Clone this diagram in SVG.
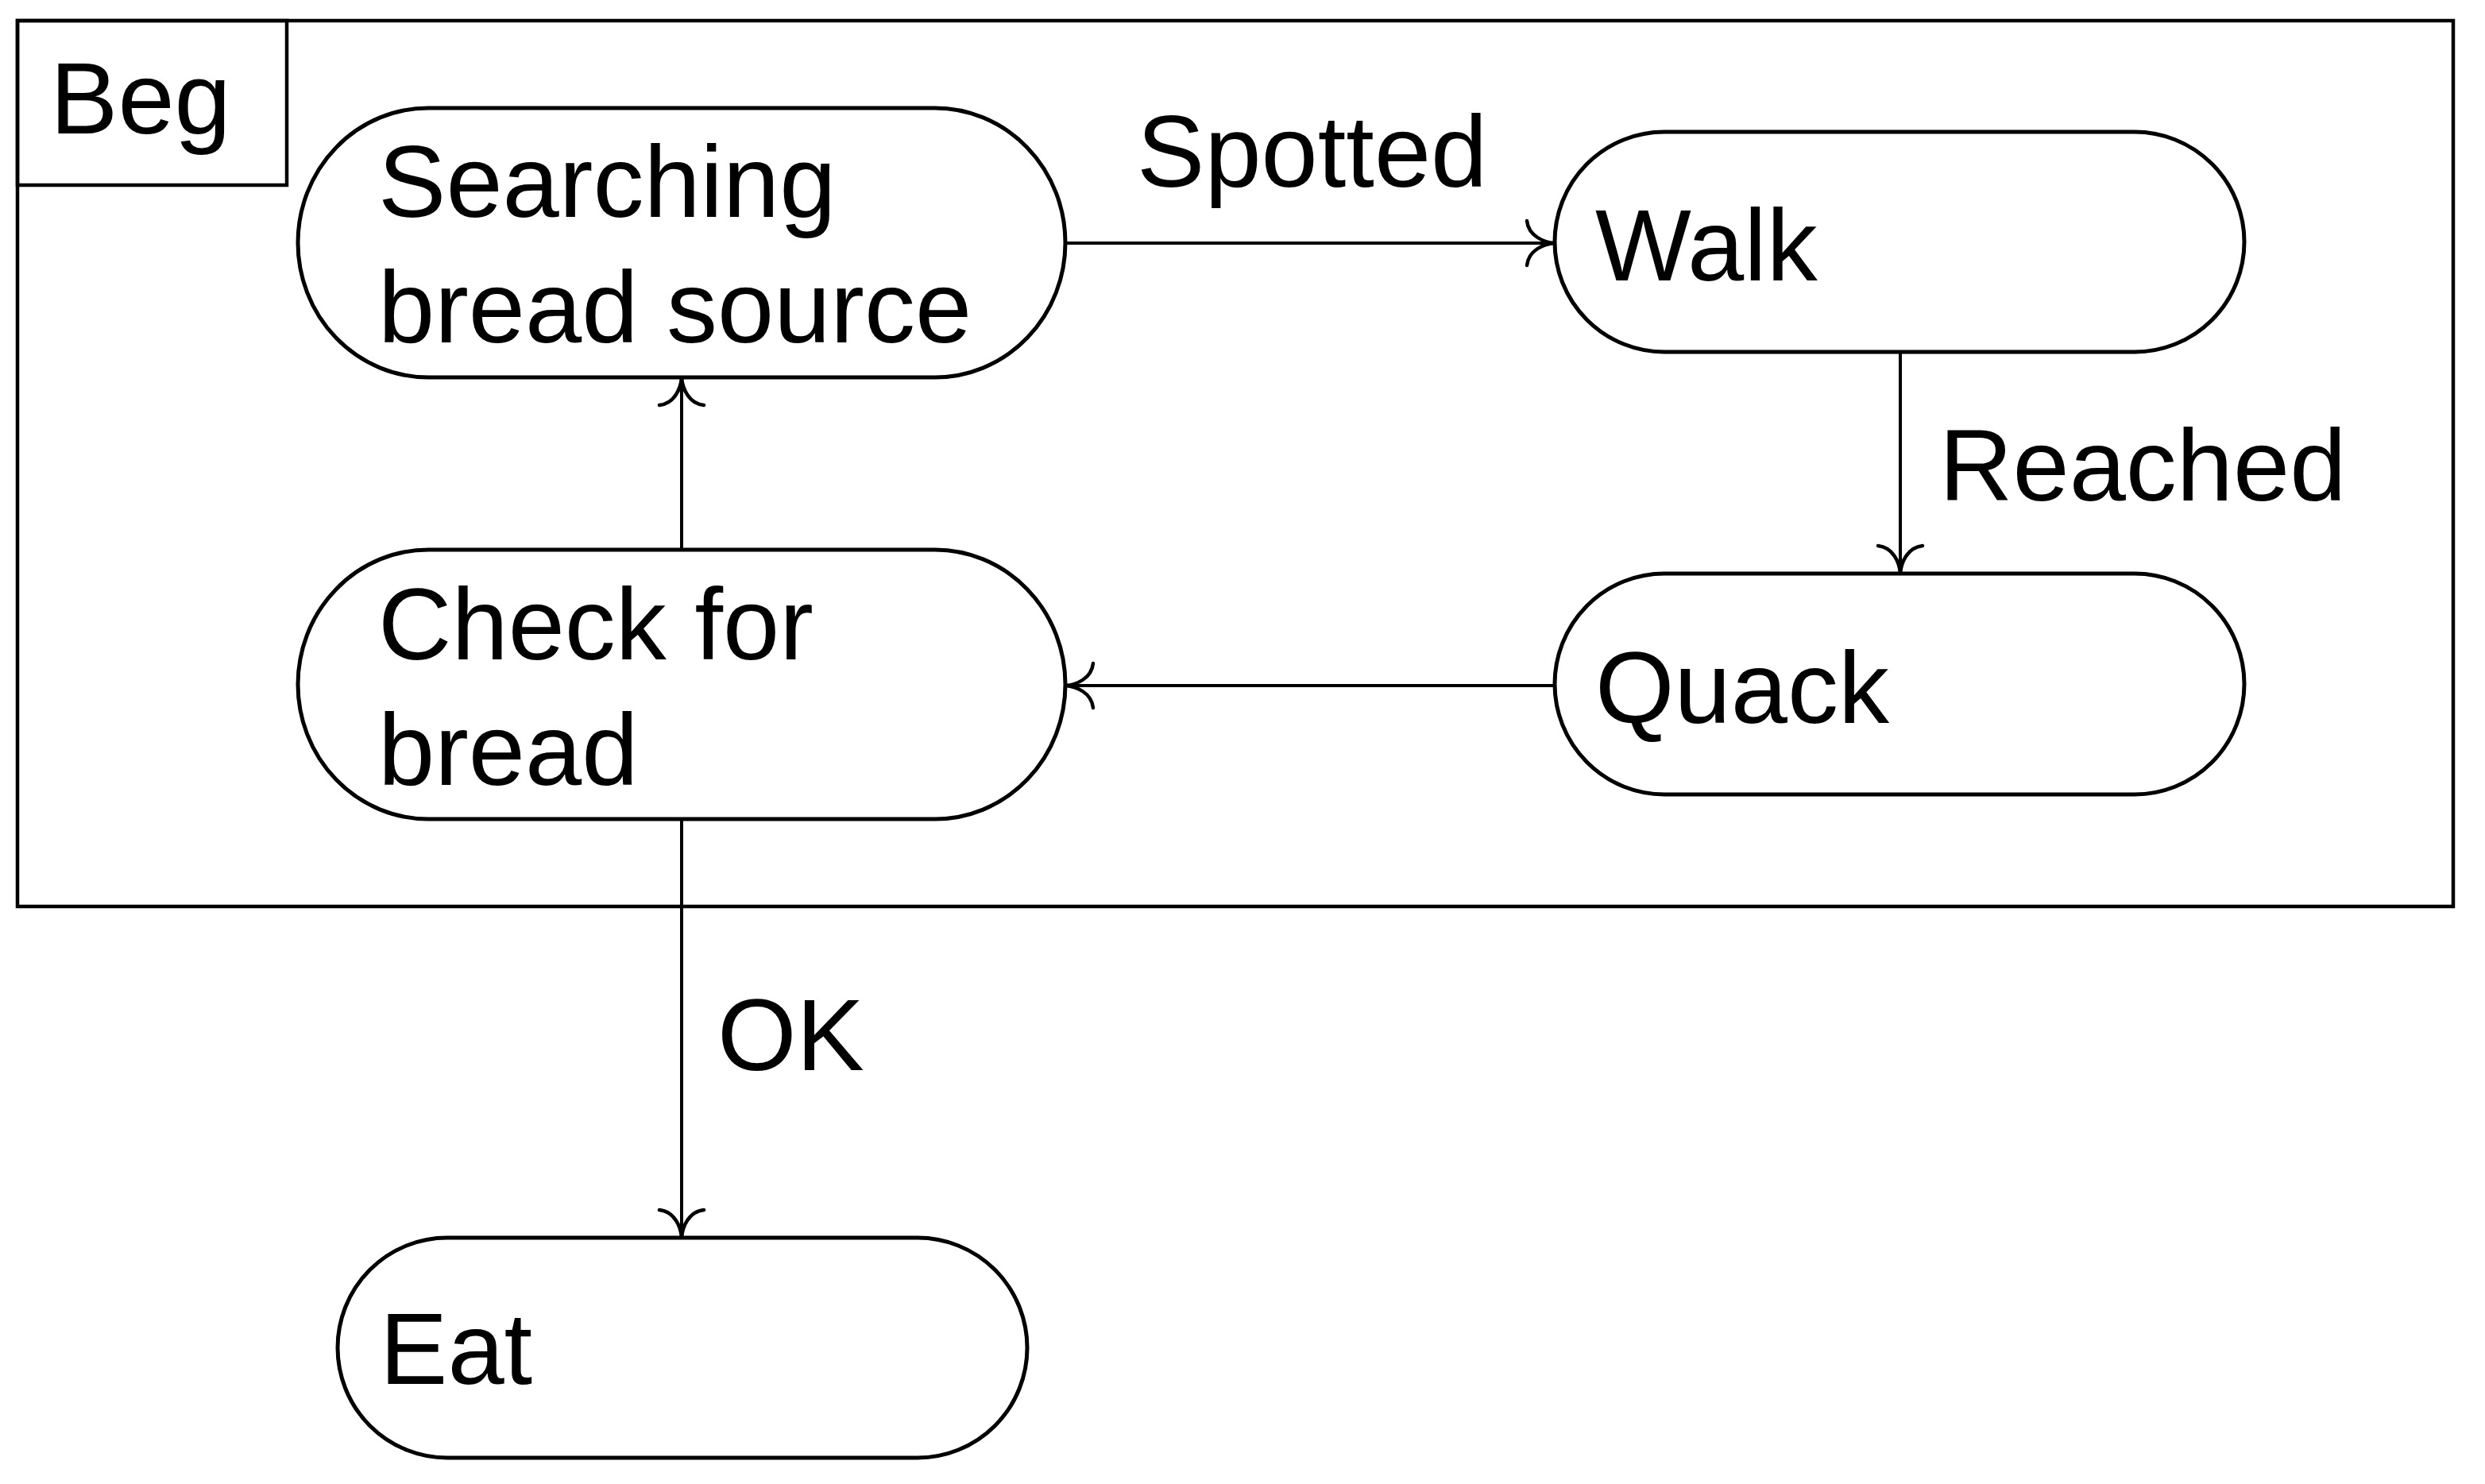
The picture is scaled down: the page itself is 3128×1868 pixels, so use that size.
<svg xmlns="http://www.w3.org/2000/svg" width="3128" height="1868" viewBox="0 0 3128 1868">
<style>
.frame{fill:none;stroke:#000;stroke-width:4.5}
.node{fill:#fff;stroke:#000;stroke-width:5}
.edge{fill:none;stroke:#000;stroke-width:4}
.t{font-family:"Liberation Sans",Arial,sans-serif;font-size:128px;fill:#000}
</style>
<defs>
<marker id="to" markerUnits="userSpaceOnUse" orient="auto" refX="0" refY="0" markerWidth="80" markerHeight="80" overflow="visible">
<path d="M -35,-28 C -33,-9 -14,-1 0,0 C -14,1 -33,9 -35,28" fill="none" stroke="#000" stroke-width="4.5" stroke-linecap="round"/>
</marker>
</defs>
<g id="frame-beg">
<rect class="frame" x="22" y="26" width="3066" height="1115"/>
<rect class="frame" x="22" y="26" width="339" height="207"/>
<text class="t" x="63" y="168">Beg</text>
</g>
<g id="connectors">
<line class="edge" x1="1341" y1="306" x2="1957" y2="306" marker-end="url(#to)"/>
<text class="t" x="1431" y="235">Spotted</text>
<line class="edge" x1="2392" y1="443" x2="2392" y2="722" marker-end="url(#to)"/>
<text class="t" x="2441" y="630">Reached</text>
<line class="edge" x1="1957" y1="863" x2="1341" y2="863" marker-end="url(#to)"/>
<line class="edge" x1="858" y1="692" x2="858" y2="475" marker-end="url(#to)"/>
<line class="edge" x1="858" y1="1031" x2="858" y2="1558" marker-end="url(#to)"/>
<text class="t" x="903" y="1347">OK</text>
</g>
<g id="searching">
<rect class="node" x="375" y="136" width="966" height="339" rx="164" ry="169.5"/>
<text class="t" x="476" y="273">Searching</text>
<text class="t" x="476" y="431">bread source</text>
</g>
<g id="walk">
<rect class="node" x="1957" y="166" width="868" height="277" rx="138" ry="138.5"/>
<text class="t" x="2008" y="353">Walk</text>
</g>
<g id="quack">
<rect class="node" x="1957" y="722" width="868" height="278" rx="138" ry="139"/>
<text class="t" x="2008" y="910">Quack</text>
</g>
<g id="check">
<rect class="node" x="375" y="692" width="966" height="339" rx="164" ry="169.5"/>
<text class="t" x="476" y="830">Check for</text>
<text class="t" x="476" y="988">bread</text>
</g>
<g id="eat">
<rect class="node" x="425" y="1558" width="868" height="277" rx="138" ry="138.5"/>
<text class="t" x="478" y="1742">Eat</text>
</g>
</svg>
